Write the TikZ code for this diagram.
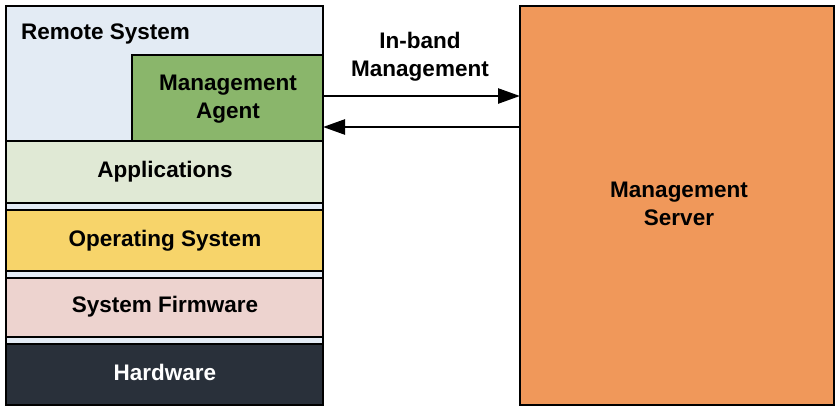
\documentclass[tikz,border=0pt]{standalone}
\usepackage{fontspec}
\setmainfont{Liberation Sans}
\usetikzlibrary{arrows.meta}
\definecolor{rsblue}{HTML}{E3EBF4}
\definecolor{agreen}{HTML}{8AB66B}
\definecolor{appgreen}{HTML}{E0E9D5}
\definecolor{osyellow}{HTML}{F7D46A}
\definecolor{fwpink}{HTML}{EDD3CF}
\definecolor{hwdark}{HTML}{29303A}
\definecolor{srvorange}{HTML}{F0985A}
\tikzset{
  x=1pt, y=-1pt,
  box/.style={draw=black, line width=2pt},
  lbl/.style={font=\fontsize{22.5}{28}\selectfont\bfseries, align=center, inner sep=0pt},
  conn/.style={line width=2.5pt, -{Triangle[length=22pt,width=15pt]}}
}
\begin{document}
\begin{tikzpicture}
\useasboundingbox (0,0) rectangle (836,407);
% Remote system outer box
\draw[box, fill=rsblue] (6,6) rectangle (323,405);
\node[lbl, anchor=west] (rs) at (21,34) {Remote System};
% Management agent
\draw[box, fill=agreen] (132,55) rectangle (323,141);
\node[lbl] (agent) at (228,99) {Management\\Agent};
\coordinate (agR1) at (323,96);
\coordinate (agR2) at (323,127);
% layers
\draw[box, fill=appgreen] (6,141) rectangle (323,203);
\node[lbl] (app) at (165,172) {Applications};
\draw[box, fill=osyellow] (6,210) rectangle (323,271);
\node[lbl] (os) at (165,241) {Operating System};
\draw[box, fill=fwpink] (6,278) rectangle (323,337);
\node[lbl] (fw) at (165,307) {System Firmware};
\draw[box, fill=hwdark] (6,344) rectangle (323,405);
\node[lbl, text=white] (hw) at (165,372) {Hardware};
% Management server
\draw[box, fill=srvorange] (520,6) rectangle (834,405);
\node[lbl] (srv) at (679,204) {Management\\Server};
\coordinate (svL1) at (520,96);
\coordinate (svL2) at (520,127);
% connectors
\draw[conn] (agR1) -- (svL1);
\draw[conn] (svL2) -- (agR2);
\node[lbl] (inband) at (420,57) {In-band\\Management};
\end{tikzpicture}
\end{document}
